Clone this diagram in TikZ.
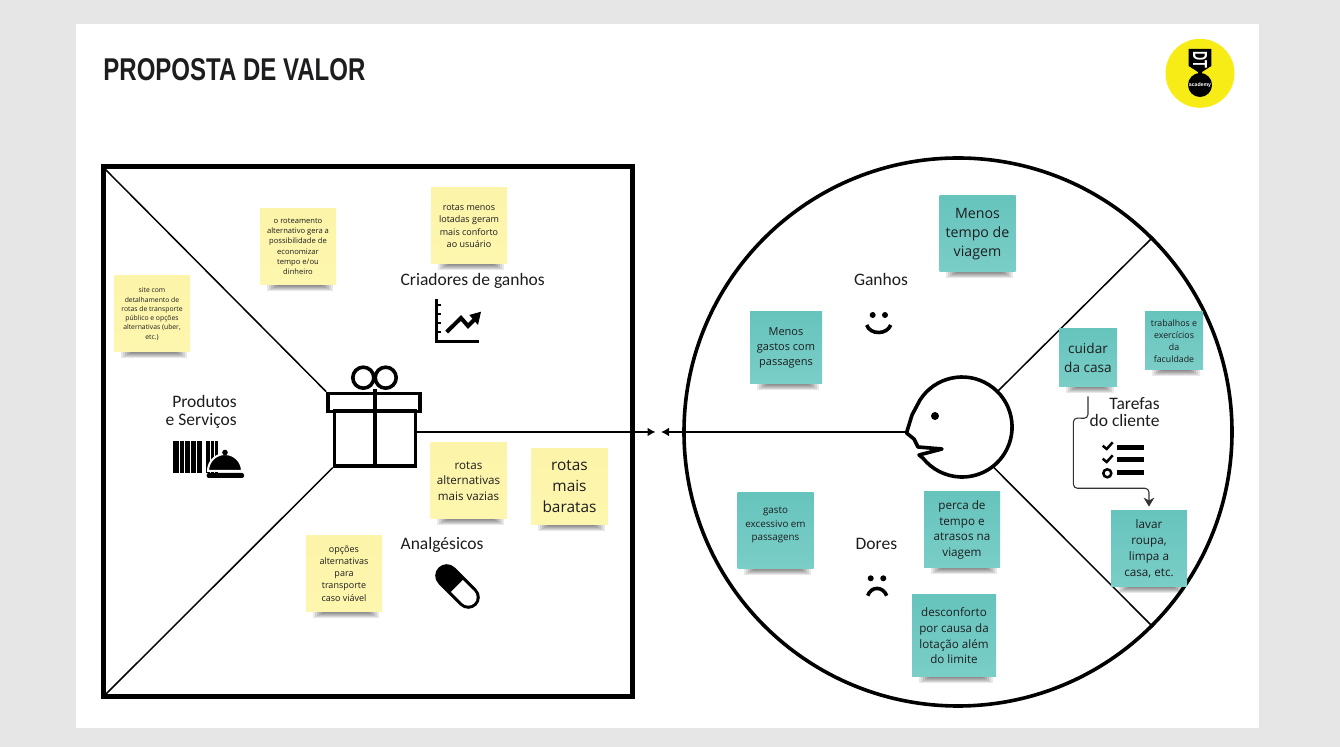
\documentclass[tikz,border=0pt]{standalone}
\usepackage{fontspec}
\setmainfont{Open Sans}
\newfontfamily\labelfont{Carlito}
\newfontfamily\titlefont{Liberation Sans}
\usetikzlibrary{calc,arrows.meta}
\definecolor{pagegray}{HTML}{E6E6E6}
\definecolor{noteyellow}{HTML}{FCF4A8}
\definecolor{noteyellowb}{HTML}{FDF6AE}
\definecolor{noteteal}{HTML}{66C4BD}
\definecolor{notetealb}{HTML}{7ACEC7}
\definecolor{logoyellow}{HTML}{F8EC16}
\definecolor{inkdark}{HTML}{1D1D1F}
\tikzset{
	fs/.style 2 args={font=\fontsize{#1}{#2}\selectfont},
	yellownote/.style={rectangle, top color=noteyellow, bottom color=noteyellowb, text=inkdark, align=center, inner sep=0pt, minimum width=38pt, minimum height=38pt},
	tealnote/.style={rectangle, top color=noteteal, bottom color=notetealb, text=inkdark, align=center, inner sep=0pt, minimum width=38pt, minimum height=38pt},
	blocklabel/.style={font=\labelfont\fontsize{8.75}{8.8}\selectfont, text=inkdark, inner sep=0pt},
	iconline/.style={line width=1.8pt, black},
	mainline/.style={line width=0.75pt, black}
}
\def\sticky[#1](#2)(#3)#4{
	\node[#1] (#3) at (#2) {#4};
	\foreach \i in {0,1,2,3,4,5}{
		\fill[black, opacity=0.09] ($(#3.south west)+(7+2*\i,0)$) rectangle ($(#3.south east)+(-3-2*\i,6-\i)$);
	}
}

\begin{document}
\begin{tikzpicture}[x=0.5pt,y=-0.5pt]
	%%%%% PAGE %%%%%
	\fill[pagegray] (0,0) rectangle (1340,747);
	\useasboundingbox (0,0) rectangle (1340,747);
	\fill[white] (76,24) rectangle (1259,728);
	\node[anchor=west, inner sep=0pt, text=inkdark] (title) at (103,70) {\resizebox{131pt}{11pt}{\titlefont\bfseries PROPOSTA DE VALOR}};

	%%%%% LOGO %%%%%
	\fill[logoyellow] (1200,73.3) circle (34.5);
	\fill[black] (1188.7,49) -- (1211.3,49) -- (1211.3,66) -- (1202,72) -- (1202,76) -- (1198,76) -- (1198,72) -- (1188.7,66) -- cycle;
	\fill[black] (1200,85) circle (12);
	\node[rotate=-90, text=white, inner sep=0pt] (logodt) at (1200,60) {\resizebox{8.5pt}{7pt}{\titlefont\bfseries DT}};
	\node[text=white, inner sep=0pt, font=\titlefont\bfseries\fontsize{2.6}{3}\selectfont] (logotext) at (1200,85) {academy};

	%%%%% VALUE MAP %%%%%
	\node[draw, line width=2.5pt, minimum width=264.5pt, minimum height=265pt, inner sep=0pt] (panel) at (367.5,432) {};
	\node[draw, iconline, minimum width=40.5pt, minimum height=27.4pt, inner sep=0pt] (giftbody) at (375,438.5) {};
	\node[draw, iconline, minimum width=46pt, minimum height=9pt, inner sep=0pt] (giftlid) at (374,402.5) {};
	\draw[iconline, line width=2pt] (giftbody.south |- 0,389) -- (giftbody.south);
	\draw[iconline] (363.3,377.7) circle (10.5);
	\draw[iconline] (385.7,377.7) circle (10.5);
	\draw[mainline, shorten <=2pt] (panel.north west) -- (giftlid.north west);
	\draw[mainline, shorten <=2pt] (panel.south west) -- (giftbody.south west);

	\node[blocklabel, align=right, anchor=east] (produtos) at (237,412) {Produtos\\e Serviços};
	\node[blocklabel, anchor=base] (criadores) at (472.7,285.7) {Criadores de ganhos};
	\node[blocklabel, anchor=base] (analgesicos) at (442,550) {Analgésicos};

	% barcode and bell
	\foreach \x/\w in {172.7/6,179.5/4.5,184.5/5,190.5/5,196.5/5.5,206/4,211/3,214.5/3.5}{
		\fill[black] (\x,441) rectangle ({\x+\w},472.7);
	}
	\filldraw[black, draw=white, line width=1pt] (208,471) arc (180:360:17) -- cycle;
	\fill[black] (225,452.5) circle (2.8);
	\fill[black, rounded corners=1pt] (206.7,473) rectangle (244,478);

	% chart
	\draw[iconline, line width=1.25pt] (436.7,299) -- (436.7,341.7) -- (479.3,341.7);
	\foreach \y in {305,314,323,332}{
		\draw[iconline, line width=1.25pt] (436.7,\y) -- (441,\y);
	}
	\draw[iconline, line width=2pt] (446.7,332) -- (461,318) -- (468,326) -- (475,319);
	\fill[black] (481,311.7) -- (469.3,315) -- (478,325) -- cycle;

	% pill
	\draw[black, line width=11.5pt, line cap=round] (446.7,575.7) -- (468.3,597.3);
	\draw[white, line width=8.4pt] (457,586) -- (468.3,597.3);
	\fill[white] (468.3,597.3) circle (8.4);

	%%%%% CUSTOMER %%%%%
	\node[draw, circle, line width=1.8pt, minimum size=274pt, inner sep=0pt] (customer) at (958,432) {};
	\node[circle, minimum size=50pt, inner sep=0pt] (head) at (962,427) {};
	\coordinate (nose) at (906,432);
	\coordinate (tipL) at (655.5,432);
	\coordinate (tipR) at (661,432);
	\draw[mainline] (head.45) -- (customer.45);
	\draw[mainline] (head.-52) -- (customer.-45);
	\draw[mainline, -{Latex[length=4pt,width=4.4pt]}] (giftbody.east |- tipL) -- (tipL);
	\draw[mainline, -{Latex[length=4pt,width=4.4pt]}] (nose) -- (tipR);
	\draw[iconline, line join=round, fill=white] (920,400) arc (212.7:501.5:50) -- (919,455) -- (942,449) -- (918,447) -- (914,439) -- (906.5,433) -- (912,415) -- cycle;
	\fill[black] (935,416) circle (4);

	\node[blocklabel, anchor=base] (ganhos) at (881,286) {Ganhos};
	\node[blocklabel, anchor=base] (dores) at (876.4,550) {Dores};
	\node[blocklabel, align=right, anchor=east] (tarefas) at (1160,412) {Tarefas\\do cliente};

	% smile
	\fill[black] (872.7,315) circle (3);
	\fill[black] (885,315) circle (3);
	\draw[iconline] (866.7,325) .. controls (870,335) and (887,335) .. (890.7,325);
	% frown
	\fill[black] (870.7,578.3) circle (3);
	\fill[black] (883.3,578.3) circle (3);
	\draw[iconline] (867.7,595.7) .. controls (871,586) and (883,586) .. (886.7,595.7);
	% checklist
	\foreach \y in {447.3,460,473}{
		\fill[black] (1117.3,\y-2.5) rectangle (1144,\y+2.5);
	}
	\foreach \y in {0,13}{
		\draw[iconline, line width=1.25pt] (1102.7,445.7+\y) -- (1106.7,449+\y) -- (1112.7,442.3+\y);
	}
	\draw[iconline, line width=1.25pt] (1107.3,473.3) circle (4);

	%%%%% NOTES %%%%%
	\sticky[yellownote, fs={3.4}{4.65}](152,314)(site){site com\\detalhamento de\\rotas de transporte\\público e opções\\alternativas (uber,\\etc.)}
	\sticky[yellownote, fs={3.8}{5.15}](298,246.5)(roteamento){o roteamento\\alternativo gera a\\possibilidade de\\economizar\\tempo e/ou\\dinheiro}
	\sticky[yellownote, fs={4.5}{6.1}](469,226)(menoslotadas){rotas menos\\lotadas geram\\mais conforto\\ao usuário}
	\sticky[yellownote, fs={5.8}{7.85}](468.5,481)(vazias){rotas\\alternativas\\mais vazias}
	\sticky[yellownote, fs={7.7}{10.5}](569.5,486.5)(baratas){rotas\\mais\\baratas}
	\sticky[yellownote, fs={4.5}{6.1}](344,573.5)(opcoes){opções\\alternativas\\para\\transporte\\caso viável}

	\sticky[tealnote, fs={7.1}{9.65}](977.5,234)(menostempo){Menos\\tempo de\\viagem}
	\sticky[tealnote, minimum width=36pt, minimum height=36pt, fs={5.5}{7.5}](786,347.5)(menosgastos){Menos\\gastos com\\passagens}
	\sticky[tealnote, minimum width=29pt, minimum height=29pt, fs={6.8}{9.3}](1088,358)(cuidar){cuidar\\da casa}
	\sticky[tealnote, minimum width=29pt, minimum height=29pt, fs={4.4}{6}](1174,341)(trabalhos){trabalhos e\\exercícios\\da\\faculdade}
	\sticky[tealnote, fs={5.85}{7.95}](1149,549)(lavar){lavar\\roupa,\\limpa a\\casa, etc.}
	\sticky[tealnote, fs={5.85}{7.95}](962,530)(perca){perca de\\tempo e\\atrasos na\\viagem}
	\sticky[tealnote, fs={4.9}{6.7}](775.5,530.5)(gasto){gasto\\excessivo em\\passagens\\~}
	\sticky[tealnote, minimum width=42pt, minimum height=41pt, fs={5.8}{7.85}](954,636)(desconforto){desconforto\\por causa da\\lotação além\\do limite}

	% flow between the two tasks
	\draw[rounded corners=2pt, line width=0.55pt, draw=black!80, -{Stealth[length=4.5pt,width=5.4pt]}] ([yshift=-4.5pt]cuidar.south) -- ++(0,22) -- (1073.4,418) -- (1073.4,488.3) -- (lavar.north |- 0,488.3) -- ([yshift=2pt]lavar.north);
\end{tikzpicture}
\end{document}
